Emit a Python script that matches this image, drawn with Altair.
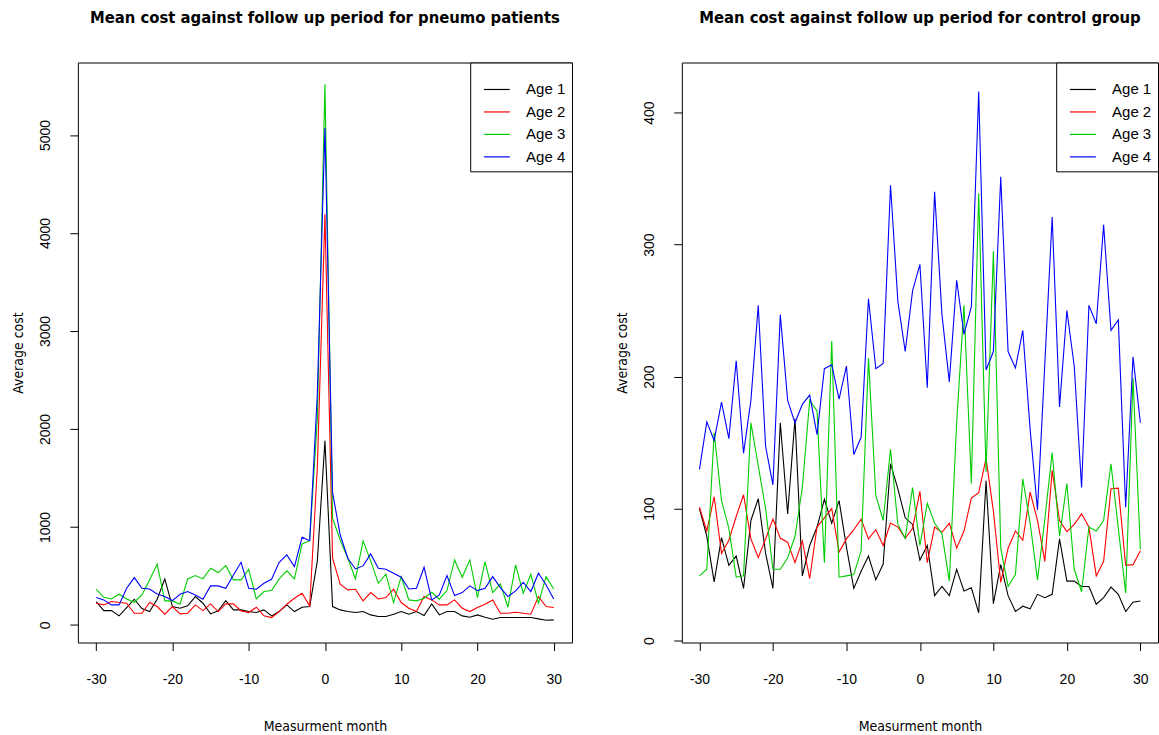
import altair as alt
import pandas as pd

months = list(range(-30, 31))
age_labels = ["Age 1", "Age 2", "Age 3", "Age 4"]
line_colors = ["#000000", "#FF0000", "#00CD00", "#0000FF"]

# Pneumo patients: mean cost per measurement month (-30 .. 30)
pneumo_age1 = [238, 146, 146, 92, 177, 262, 167, 136, 262, 469,
               187, 170, 194, 289, 221, 112, 143, 248, 153, 153,
               136, 126, 153, 92, 136, 204, 136, 180, 187, 650,
               1878,
               187, 153, 136, 126, 136, 102, 85, 85, 109, 136,
               109, 136, 95, 214, 102, 136, 136, 92, 78, 102,
               78, 58, 75, 75, 75, 75, 75, 61, 48, 51]
pneumo_age2 = [221, 204, 238, 228, 221, 119, 119, 228, 187, 109,
               187, 112, 119, 204, 146, 214, 136, 214, 214, 143,
               126, 180, 92, 75, 136, 211, 272, 323, 194, 1600,
               4190,
               680, 415, 357, 364, 245, 330, 265, 279, 364, 228,
               170, 136, 289, 255, 204, 204, 255, 170, 136, 177,
               211, 255, 119, 119, 129, 119, 109, 289, 187, 177]
pneumo_age3 = [364, 282, 265, 313, 265, 231, 306, 459, 619, 245,
               245, 211, 469, 503, 469, 578, 534, 605, 459, 459,
               568, 265, 340, 350, 469, 551, 469, 826, 860, 2100,
               5517,
               1090, 867, 680, 469, 857, 653, 425, 517, 228, 493,
               255, 245, 272, 333, 262, 350, 663, 486, 663, 279,
               646, 330, 418, 180, 612, 323, 517, 221, 493, 367]
pneumo_age4 = [279, 255, 204, 204, 374, 483, 374, 367, 316, 289,
               248, 313, 340, 306, 262, 398, 398, 374, 510, 639,
               374, 364, 425, 466, 639, 714, 595, 894, 860, 2350,
               5075,
               1350, 920, 680, 571, 602, 724, 578, 568, 527, 486,
               367, 374, 588, 255, 306, 503, 299, 330, 398, 350,
               374, 493, 381, 289, 347, 435, 340, 527, 408, 265]

# Control group: mean cost per measurement month (-30 .. 30)
control_age1 = [100, 79, 44.5, 78, 57, 64, 39.5, 91, 107.5, 66,
                39.5, 165, 96, 168, 49, 72, 86, 107, 89, 106,
                71, 39.5, 52.5, 64, 46, 58, 134, 115, 93, 88,
                61,
                72, 34, 41, 34, 54, 37.5, 40, 21, 121, 28,
                57.5, 34, 22, 26, 24, 35, 32.5, 35, 77, 45,
                45, 41, 41, 27.5, 32.5, 40.5, 35, 22, 29, 30]
control_age2 = [101, 83, 109, 66, 76, 94, 110.5, 77, 63, 77,
                92, 77.5, 74.5, 59, 75.5, 47, 86, 93, 100, 67,
                77, 84, 92, 77, 84, 72, 89, 86, 77.5, 85,
                113,
                59, 86, 82, 89, 70, 83, 108, 112, 138, 98,
                44, 70, 83, 76, 112.5, 91, 60, 129, 91, 82.5,
                88, 96, 86, 49, 60, 115, 115.5, 57, 57.5, 68]
control_age3 = [49, 54, 157.5, 106, 85, 48, 49, 165, 132.5, 100,
                54, 54, 62.5, 79, 116, 182, 174, 59, 227, 48,
                49, 50, 68, 214, 110, 91, 145, 88, 77.5, 116,
                72,
                104, 89, 81, 45, 165, 254, 119, 339, 128, 295,
                70, 41, 50, 122.5, 89, 46, 92, 142.5, 79, 119,
                54, 37, 86, 83, 91, 134, 85, 36, 199, 69]
control_age4 = [129.7, 165.7, 151.6, 180.6, 153, 212, 142, 182, 254, 147,
                118, 247, 182, 165, 179, 186, 156, 206, 209, 183,
                208, 141, 154, 259, 206, 210, 345, 257, 219, 265,
                285,
                191.5, 340, 247, 196, 273, 232, 253, 416, 205, 219,
                351.5, 219, 206.6, 235, 160, 99, 210, 321, 177, 250,
                208, 116, 254, 240, 315, 235, 243, 101, 215, 165]

x_ticks = [-30, -20, -10, 0, 10, 20, 30]
pneumo_y_ticks = [0, 1000, 2000, 3000, 4000, 5000]
control_y_ticks = [0, 100, 200, 300, 400]

NARROW = "Liberation Sans Narrow, Arial Narrow, DejaVu Sans Condensed, sans-serif"
REGULAR = "Liberation Sans, Arial, sans-serif"
# plain hyphen for negative tick labels
TICK_TEXT = "(datum.value < 0 ? '-' : '') + abs(datum.value)"


def long_frame(series):
    rows = []
    for label, values in zip(age_labels, series):
        for m, v in zip(months, values):
            rows.append({"month": m, "cost": v, "group": label})
    return pd.DataFrame(rows)


def panel(df, title, y_domain, y_ticks, width):
    return (
        alt.Chart(df, title=alt.Title(title))
        .mark_line(strokeWidth=1.1, clip=True)
        .encode(
            x=alt.X(
                "month:Q",
                scale=alt.Scale(domain=[-32.4, 32.4], nice=False, zero=False),
                axis=alt.Axis(values=x_ticks, title="Measurment month", labelExpr=TICK_TEXT),
            ),
            y=alt.Y(
                "cost:Q",
                scale=alt.Scale(domain=y_domain, nice=False, zero=False),
                axis=alt.Axis(
                    values=y_ticks,
                    title="Average cost",
                    labelExpr=TICK_TEXT,
                    labelAngle=-90,
                    labelAlign="center",
                    labelBaseline="alphabetic",
                    labelPadding=20.5,
                ),
            ),
            color=alt.Color(
                "group:N",
                scale=alt.Scale(domain=age_labels, range=line_colors),
                legend=alt.Legend(
                    title=" ",
                    titleFontSize=5,
                    titlePadding=4,
                    orient="top-right",
                    offset=0,
                    fillColor="white",
                    strokeColor="black",
                    padding=6,
                    symbolType="M-0.38,0H1.93",
                    symbolSize=506,
                    symbolStrokeWidth=1.2,
                    labelFont=REGULAR,
                    labelFontSize=15,
                    labelColor="black",
                    labelOffset=26,
                    rowPadding=2.5,
                ),
            ),
        )
        .properties(width=width, height=581)
    )


left = panel(
    long_frame([pneumo_age1, pneumo_age2, pneumo_age3, pneumo_age4]),
    "Mean cost against follow up period for pneumo patients",
    [-180, 5740],
    pneumo_y_ticks,
    495,
)
right = panel(
    long_frame([control_age1, control_age2, control_age3, control_age4]),
    "Mean cost against follow up period for control group",
    [-1.5, 438],
    control_y_ticks,
    477,
)

chart = (
    alt.hconcat(left, right, spacing=42)
    .resolve_scale(color="independent")
    .resolve_legend(color="independent")
    .properties(padding={"left": 11, "top": 8, "right": 0, "bottom": 0}, background="white")
    .configure_view(stroke="black", strokeWidth=1)
    .configure_axis(
        domain=False,
        grid=False,
        tickColor="black",
        tickSize=8,
        tickWidth=1,
        labelColor="black",
        labelFont=REGULAR,
        labelFontSize=14,
        titleColor="black",
        titleFont=NARROW,
        titleFontSize=14,
        titleFontWeight="normal",
    )
    .configure_axisX(labelPadding=22, titlePadding=33)
    .configure_axisY(titlePadding=13)
    .configure_title(
        font=NARROW,
        fontSize=16.5,
        fontWeight="bold",
        color="black",
        anchor="middle",
        offset=36,
    )
)

chart.save("out.html", embed_options={"renderer": "svg", "actions": False})
